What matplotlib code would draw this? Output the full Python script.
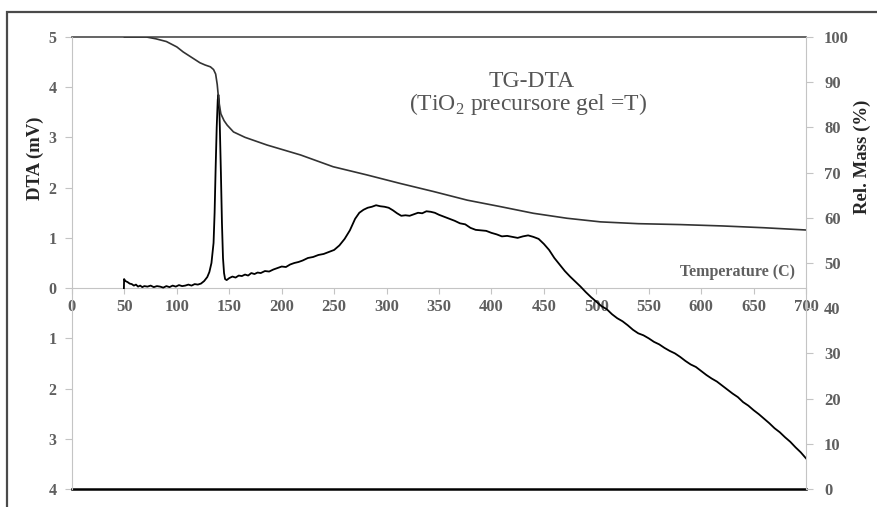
import matplotlib
matplotlib.use("Agg")
import matplotlib.pyplot as plt
from matplotlib.patches import Rectangle

plt.rcParams['font.family'] = ['Liberation Serif', 'DejaVu Serif']
plt.rcParams['mathtext.fontset'] = 'custom'
plt.rcParams['mathtext.rm'] = 'Liberation Serif'

## DTA signal (mV)
dta_temp = [49.5, 49.7, 51, 53, 55, 57, 59, 61, 63, 65, 67, 69, 72, 75, 78, 81, 84, 87, 90, 93,
            96, 99, 102, 105, 108, 111, 114, 117, 120, 123, 126, 129, 131, 133, 135, 136, 137, 138,
            139, 139.6, 140.3, 141, 142, 143, 144, 145, 146, 147.5, 150, 153, 156, 159, 162, 165,
            168, 171, 174, 177, 180, 184, 188, 192, 196, 200, 204, 208, 212, 216, 220, 225, 230,
            235, 240, 245, 250, 255, 260, 265, 270, 274, 278, 282, 286, 290, 294, 298, 302, 306,
            310, 314, 318, 322, 326, 330, 334, 338, 342, 346, 350, 355, 360, 365, 370, 375, 380,
            385, 390, 395, 400, 405, 410, 415, 420, 425, 430, 435, 440, 445, 450, 455, 460, 465,
            470, 475, 480, 485, 490, 495, 500, 505, 510, 515, 520, 525, 530, 535, 540, 545, 550,
            555, 560, 565, 570, 575, 580, 585, 590, 595, 600, 605, 610, 615, 620, 625, 630, 635,
            640, 645, 650, 655, 660, 665, 670, 675, 680, 685, 690, 695, 700]
dta_mv = [0.0, 0.18, 0.14, 0.12, 0.09, 0.08, 0.05, 0.07, 0.03, 0.05, 0.02, 0.04, 0.03, 0.05, 0.02,
          0.04, 0.03, 0.01, 0.04, 0.02, 0.05, 0.03, 0.06, 0.04, 0.05, 0.07, 0.05, 0.08, 0.07, 0.09,
          0.14, 0.22, 0.32, 0.5, 0.9, 1.5, 2.4, 3.2, 3.75, 3.85, 3.7, 3.2, 2.3, 1.3, 0.6, 0.3, 0.18,
          0.16, 0.2, 0.23, 0.21, 0.25, 0.24, 0.27, 0.25, 0.3, 0.28, 0.31, 0.3, 0.34, 0.33, 0.37,
          0.4, 0.43, 0.42, 0.47, 0.5, 0.52, 0.55, 0.6, 0.62, 0.66, 0.68, 0.72, 0.76, 0.85, 0.98,
          1.15, 1.38, 1.5, 1.56, 1.6, 1.62, 1.65, 1.63, 1.62, 1.6, 1.55, 1.49, 1.44, 1.45, 1.44,
          1.47, 1.5, 1.49, 1.53, 1.52, 1.5, 1.46, 1.42, 1.38, 1.34, 1.29, 1.27, 1.2, 1.16, 1.15,
          1.14, 1.1, 1.07, 1.03, 1.04, 1.02, 1.0, 1.03, 1.05, 1.02, 0.98, 0.88, 0.76, 0.6, 0.47,
          0.34, 0.23, 0.13, 0.03, -0.08, -0.18, -0.27, -0.36, -0.42, -0.52, -0.6, -0.66, -0.74,
          -0.83, -0.9, -0.94, -1.0, -1.07, -1.12, -1.19, -1.25, -1.3, -1.37, -1.45, -1.52, -1.57,
          -1.65, -1.73, -1.8, -1.86, -1.94, -2.02, -2.1, -2.17, -2.27, -2.34, -2.43, -2.51, -2.6,
          -2.69, -2.79, -2.87, -2.97, -3.06, -3.17, -3.27, -3.39]

## TG curve, relative mass (%)
tg_temp = [50, 60, 71, 80, 90, 100, 106, 114, 122, 127, 132, 135, 137, 138.5, 139.5, 140.5, 142,
           145, 148, 154, 165, 186, 218, 249, 281, 313, 345, 377, 408, 440, 472, 504, 540, 580,
           620, 660, 700]
tg_mass = [100, 100, 100, 99.6, 99.0, 97.8, 96.7, 95.5, 94.3, 93.8, 93.4, 92.8, 91.8, 89.5, 87,
           85, 83, 81.5, 80.5, 79, 77.8, 76.1, 73.9, 71.3, 69.5, 67.6, 65.8, 63.9, 62.5, 61.0,
           59.9, 59.1, 58.7, 58.5, 58.2, 57.8, 57.3]

x_ticks = list(range(0, 701, 50))
dta_ticks = [5, 4, 3, 2, 1, 0, -1, -2, -3, -4]
dta_tick_labels = ['5', '4', '3', '2', '1', '0', '1', '2', '3', '4']
mass_ticks = list(range(0, 101, 10))

tick_col = '#5f5f5f'
axis_col = '#c4c4c4'

fig = plt.figure(figsize=(8.77, 5.07), dpi=100)
fig.patches.append(Rectangle((7/877, -0.1), 1.2, 1 - 12/507 + 0.1, transform=fig.transFigure,
                             fill=False, ec='#4a4a4a', lw=1.6))

ax = fig.add_axes([72/877, 1 - 489/507, 734/877, 452/507])
ax.set_xlim(0, 700)
ax.set_ylim(-4, 5)
ax.plot(dta_temp, dta_mv, color='black', lw=1.3, zorder=3)

ax.spines['bottom'].set_position(('data', 0))
ax.spines['bottom'].set_color(axis_col)
ax.spines['left'].set_color(axis_col)
ax.spines['top'].set_visible(False)
ax.spines['right'].set_visible(False)
ax.axhline(5, color='#3a3a3a', lw=1.1, clip_on=False)
ax.axhline(-4, color='black', lw=1.8, clip_on=False)

ax.set_xticks(x_ticks)
ax.set_yticks(dta_ticks)
ax.set_yticklabels(dta_tick_labels)
ax.tick_params(axis='x', direction='out', length=4, color=axis_col, pad=4,
               labelsize=12, labelcolor=tick_col)
ax.tick_params(axis='y', direction='out', length=5, color=axis_col, pad=6,
               labelsize=11.5, labelcolor=tick_col)
for lab in ax.get_xticklabels() + ax.get_yticklabels():
    lab.set_fontweight('bold')

ax2 = ax.twinx()
ax2.set_ylim(0, 100)
ax2.plot(tg_temp, tg_mass, color='#333333', lw=1.2, zorder=2)
for s in ['top', 'bottom', 'left']:
    ax2.spines[s].set_visible(False)
ax2.spines['right'].set_color(axis_col)
ax2.set_yticks(mass_ticks)
ax2.tick_params(axis='y', direction='out', length=5, color=axis_col, pad=8,
                labelsize=12, labelcolor=tick_col)
for lab in ax2.get_yticklabels():
    lab.set_fontweight('bold')

fig.text(35/877, 1 - 158/507, 'DTA (mV)', rotation=90, ha='center', va='center',
         fontsize=13.5, fontweight='bold', color='#262626')
fig.text(862/877, 1 - 157/507, 'Rel. Mass (%)', rotation=90, ha='center', va='center',
         fontsize=13.5, fontweight='bold', color='#262626')
fig.text(738/877, 1 - 272/507, 'Temperature (C)', ha='center', va='center',
         fontsize=11.5, fontweight='bold', color=tick_col)
fig.text(532/877, 1 - 82/507, 'TG-DTA', ha='center', va='center',
         fontsize=17, color='#555555')
fig.text(528/877, 1 - 104/507, r'(TiO$_2$ precursore gel =T)', ha='center', va='center',
         fontsize=17, color='#555555')

fig.savefig('out.png', dpi=100)
